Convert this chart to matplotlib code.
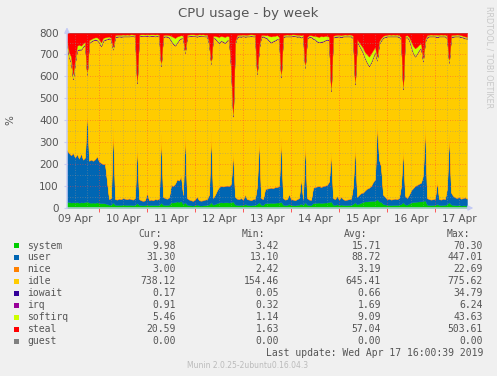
import matplotlib
matplotlib.use('Agg')
import matplotlib.pyplot as plt
from matplotlib.patches import Rectangle
import numpy as np

# hourly samples, 09 Apr 08:00 -> 17 Apr 16:00 (201 points)
system = [
    28, 27, 25, 26, 25, 27, 24, 26, 25, 27,
    30, 25, 24, 25, 24, 26, 23, 22, 22, 21,
    18, 15, 16, 25, 15, 14, 15, 14, 16, 15,
    14, 15, 14, 13, 15, 22, 14, 13, 12, 13,
    16, 13, 14, 13, 14, 13, 14, 24, 15, 14,
    14, 15, 26, 25, 27, 30, 28, 32, 18, 26,
    15, 13, 12, 11, 13, 16, 12, 11, 12, 13,
    14, 16, 26, 15, 18, 22, 25, 26, 25, 26,
    26, 25, 27, 30, 16, 14, 13, 15, 13, 18,
    14, 13, 12, 14, 14, 18, 26, 15, 14, 22,
    22, 23, 24, 23, 24, 25, 25, 28, 15, 13,
    14, 18, 14, 13, 12, 14, 15, 20, 14, 26,
    15, 13, 13, 22, 23, 24, 25, 23, 24, 25,
    25, 27, 30, 15, 14, 17, 13, 16, 14, 13,
    13, 14, 14, 18, 26, 16, 20, 24, 28, 30,
    30, 31, 32, 33, 32, 40, 30, 28, 18, 16,
    14, 14, 13, 14, 14, 14, 15, 18, 26, 16,
    15, 20, 25, 27, 28, 29, 30, 30, 32, 35,
    15, 14, 13, 14, 14, 18, 14, 13, 14, 14,
    18, 26, 16, 14, 13, 12, 14, 11, 12, 12,
    10]
user = [
    234, 223, 215, 224, 205, 218, 201, 222, 195, 203,
    415, 190, 196, 190, 198, 209, 189, 183, 178, 179,
    102, 25, 29, 345, 25, 24, 27, 26, 29, 27,
    26, 28, 26, 25, 30, 268, 26, 22, 20, 22,
    52, 22, 24, 22, 26, 25, 28, 311, 35, 31,
    28, 33, 79, 75, 83, 100, 97, 113, 42, 319,
    30, 25, 23, 21, 27, 34, 23, 22, 23, 25,
    26, 44, 319, 30, 42, 58, 70, 74, 73, 74,
    76, 75, 83, 226, 34, 28, 27, 30, 25, 42,
    26, 25, 23, 26, 28, 82, 294, 30, 26, 63,
    66, 67, 68, 67, 71, 70, 75, 294, 30, 25,
    26, 44, 26, 25, 23, 26, 30, 115, 26, 279,
    30, 25, 23, 70, 72, 74, 75, 72, 76, 77,
    80, 93, 226, 30, 26, 38, 25, 34, 26, 23,
    25, 26, 28, 82, 260, 34, 40, 44, 42, 50,
    58, 61, 68, 85, 98, 345, 190, 160, 42, 34,
    26, 28, 25, 26, 28, 26, 30, 82, 244, 39,
    30, 40, 55, 63, 72, 76, 80, 85, 118, 343,
    30, 26, 25, 26, 28, 102, 26, 25, 28, 26,
    72, 314, 54, 41, 35, 33, 36, 31, 33, 36,
    31]
nice = [
    3, 3, 3, 3, 3, 3, 3, 3, 3, 3, 3, 3, 3, 3, 3, 3, 3, 3, 3, 3,
    3, 3, 3, 3, 3, 3, 3, 3, 3, 3, 3, 3, 3, 3, 3, 3, 3, 3, 3, 3,
    3, 3, 3, 3, 3, 3, 3, 3, 3, 3, 3, 3, 3, 3, 3, 3, 3, 3, 3, 3,
    3, 3, 3, 3, 3, 3, 3, 3, 3, 3, 3, 3, 3, 3, 3, 3, 3, 3, 3, 3,
    3, 3, 3, 3, 3, 3, 3, 3, 3, 3, 3, 3, 3, 3, 3, 3, 3, 3, 3, 3,
    3, 3, 3, 3, 3, 3, 3, 3, 3, 3, 3, 3, 3, 3, 3, 3, 3, 3, 3, 3,
    3, 3, 3, 3, 3, 3, 3, 3, 3, 3, 3, 3, 3, 3, 3, 3, 3, 3, 3, 3,
    3, 3, 3, 3, 3, 3, 3, 3, 3, 3, 3, 3, 3, 3, 3, 3, 3, 3, 3, 3,
    3, 3, 3, 3, 3, 3, 3, 3, 3, 3, 3, 3, 3, 3, 3, 3, 3, 3, 3, 3,
    3, 3, 3, 3, 3, 3, 3, 3, 3, 3, 3, 3, 3, 3, 3, 3, 3, 3, 3, 3,
    3]
idle = [
    482, 434, 419, 334, 429, 471, 494, 471, 512, 512,
    159, 534, 536, 546, 542, 527, 540, 529, 559, 564,
    646, 730, 718, 349, 736, 740, 737, 738, 734, 737,
    739, 736, 740, 742, 733, 276, 739, 746, 748, 745,
    713, 744, 743, 746, 739, 743, 736, 309, 726, 734,
    736, 726, 654, 646, 627, 621, 639, 625, 711, 359,
    733, 742, 746, 748, 740, 728, 746, 747, 745, 741,
    739, 686, 309, 728, 709, 678, 654, 659, 656, 649,
    659, 661, 522, 158, 696, 734, 739, 733, 742, 718,
    739, 741, 746, 739, 737, 508, 404, 731, 739, 689,
    682, 669, 659, 667, 666, 672, 664, 270, 731, 741,
    739, 717, 739, 743, 745, 738, 734, 639, 738, 331,
    723, 739, 740, 677, 669, 658, 652, 659, 656, 659,
    659, 642, 274, 728, 737, 723, 741, 726, 739, 743,
    741, 739, 737, 671, 274, 706, 679, 654, 634, 599,
    571, 552, 561, 566, 579, 284, 524, 573, 713, 726,
    739, 737, 741, 739, 737, 739, 732, 666, 268, 718,
    731, 704, 654, 614, 587, 596, 607, 611, 515, 376,
    731, 739, 741, 739, 737, 656, 739, 741, 737, 739,
    681, 319, 706, 723, 731, 734, 729, 734, 729, 722,
    728]
iowait = [
    1, 1, 1, 1, 1, 1, 1, 1, 1, 1, 1, 1, 1, 1, 1, 1, 1, 1, 1, 1,
    1, 1, 1, 1, 1, 1, 1, 1, 1, 1, 1, 1, 1, 1, 1, 1, 1, 1, 1, 1,
    1, 1, 1, 1, 1, 1, 1, 1, 1, 1, 1, 1, 1, 1, 1, 1, 1, 1, 1, 1,
    1, 1, 1, 1, 1, 1, 1, 1, 1, 1, 1, 1, 1, 1, 1, 1, 1, 1, 1, 1,
    1, 1, 1, 1, 1, 1, 1, 1, 1, 1, 1, 1, 1, 1, 1, 1, 1, 1, 1, 1,
    1, 1, 1, 1, 1, 1, 1, 1, 1, 1, 1, 1, 1, 1, 1, 1, 1, 1, 1, 1,
    1, 1, 1, 1, 1, 1, 1, 1, 1, 1, 1, 1, 1, 1, 1, 1, 1, 1, 1, 1,
    1, 1, 1, 1, 1, 1, 1, 1, 1, 1, 1, 1, 1, 1, 1, 1, 1, 1, 1, 1,
    1, 1, 1, 1, 1, 1, 1, 1, 1, 1, 1, 1, 1, 1, 1, 1, 1, 1, 1, 1,
    1, 1, 1, 1, 1, 1, 1, 1, 1, 1, 1, 1, 1, 1, 1, 1, 1, 1, 1, 1,
    1]
irq = [
    2, 2, 2, 2, 2, 2, 2, 2, 2, 2, 2, 2, 2, 2, 2, 2, 2, 2, 2, 2,
    2, 2, 2, 2, 2, 2, 2, 2, 2, 2, 2, 2, 2, 2, 2, 2, 2, 2, 2, 2,
    2, 2, 2, 2, 2, 2, 2, 2, 2, 2, 2, 2, 2, 2, 2, 2, 2, 2, 2, 2,
    2, 2, 2, 2, 2, 2, 2, 2, 2, 2, 2, 2, 2, 2, 2, 2, 2, 2, 2, 2,
    2, 2, 2, 2, 2, 2, 2, 2, 2, 2, 2, 2, 2, 2, 2, 2, 2, 2, 2, 2,
    2, 2, 2, 2, 2, 2, 2, 2, 2, 2, 2, 2, 2, 2, 2, 2, 2, 2, 2, 2,
    2, 2, 2, 2, 2, 2, 2, 2, 2, 2, 2, 2, 2, 2, 2, 2, 2, 2, 2, 2,
    2, 2, 2, 2, 2, 2, 2, 2, 2, 2, 2, 2, 2, 2, 2, 2, 2, 2, 2, 2,
    2, 2, 2, 2, 2, 2, 2, 2, 2, 2, 2, 2, 2, 2, 2, 2, 2, 2, 2, 2,
    2, 2, 2, 2, 2, 2, 2, 2, 2, 2, 2, 2, 2, 2, 2, 2, 2, 2, 2, 2,
    2]
softirq = [
    10, 20, 25, 20, 15, 18, 20, 15, 12, 10,
    10, 10, 8, 8, 8, 10, 12, 15, 10, 8,
    8, 6, 6, 10, 6, 6, 5, 6, 6, 5,
    6, 5, 6, 5, 6, 8, 5, 5, 6, 5,
    5, 6, 5, 5, 6, 5, 6, 10, 6, 5,
    6, 8, 20, 28, 32, 25, 15, 12, 8, 10,
    6, 5, 5, 6, 5, 6, 5, 5, 6, 5,
    6, 8, 10, 6, 10, 18, 25, 20, 22, 25,
    18, 15, 12, 10, 8, 6, 5, 6, 5, 6,
    5, 6, 5, 6, 5, 8, 10, 6, 5, 8,
    12, 20, 25, 22, 18, 15, 10, 12, 6, 5,
    6, 5, 6, 5, 5, 6, 5, 8, 6, 10,
    6, 5, 6, 10, 15, 20, 22, 25, 20, 18,
    15, 12, 10, 6, 5, 6, 5, 6, 5, 6,
    5, 6, 5, 8, 10, 8, 10, 15, 20, 25,
    35, 40, 38, 30, 20, 15, 10, 8, 6, 6,
    5, 6, 5, 6, 5, 6, 5, 8, 10, 6,
    6, 10, 20, 30, 35, 28, 22, 18, 12, 10,
    6, 5, 6, 5, 6, 8, 5, 6, 5, 6,
    8, 10, 6, 6, 5, 6, 5, 6, 5, 6,
    5]
steal = [
    40, 90, 110, 190, 120, 60, 55, 60, 50, 42,
    180, 35, 30, 25, 22, 22, 30, 45, 25, 22,
    20, 18, 25, 65, 12, 10, 10, 10, 9, 10,
    9, 10, 8, 9, 10, 220, 10, 8, 8, 9,
    8, 9, 8, 8, 9, 8, 10, 140, 12, 10,
    10, 12, 15, 20, 25, 18, 15, 12, 15, 80,
    10, 9, 8, 8, 9, 10, 8, 9, 8, 10,
    9, 40, 130, 15, 15, 18, 20, 15, 18, 20,
    15, 18, 150, 370, 40, 12, 10, 10, 9, 10,
    10, 9, 8, 9, 10, 178, 60, 12, 10, 12,
    12, 15, 18, 15, 15, 12, 20, 190, 12, 10,
    9, 10, 9, 8, 9, 10, 10, 12, 10, 148,
    20, 12, 12, 15, 15, 18, 20, 15, 18, 15,
    15, 20, 254, 15, 12, 10, 10, 12, 10, 9,
    10, 9, 10, 15, 224, 30, 45, 57, 70, 90,
    100, 110, 95, 80, 65, 110, 40, 25, 15, 12,
    10, 9, 10, 9, 10, 9, 12, 20, 246, 15,
    12, 20, 40, 60, 72, 65, 55, 50, 117, 30,
    12, 10, 9, 10, 9, 10, 10, 9, 10, 9,
    15, 125, 12, 10, 10, 9, 10, 12, 15, 18,
    20]
guest = [
    0, 0, 0, 0, 0, 0, 0, 0, 0, 0, 0, 0, 0, 0, 0, 0, 0, 0, 0, 0,
    0, 0, 0, 0, 0, 0, 0, 0, 0, 0, 0, 0, 0, 0, 0, 0, 0, 0, 0, 0,
    0, 0, 0, 0, 0, 0, 0, 0, 0, 0, 0, 0, 0, 0, 0, 0, 0, 0, 0, 0,
    0, 0, 0, 0, 0, 0, 0, 0, 0, 0, 0, 0, 0, 0, 0, 0, 0, 0, 0, 0,
    0, 0, 0, 0, 0, 0, 0, 0, 0, 0, 0, 0, 0, 0, 0, 0, 0, 0, 0, 0,
    0, 0, 0, 0, 0, 0, 0, 0, 0, 0, 0, 0, 0, 0, 0, 0, 0, 0, 0, 0,
    0, 0, 0, 0, 0, 0, 0, 0, 0, 0, 0, 0, 0, 0, 0, 0, 0, 0, 0, 0,
    0, 0, 0, 0, 0, 0, 0, 0, 0, 0, 0, 0, 0, 0, 0, 0, 0, 0, 0, 0,
    0, 0, 0, 0, 0, 0, 0, 0, 0, 0, 0, 0, 0, 0, 0, 0, 0, 0, 0, 0,
    0, 0, 0, 0, 0, 0, 0, 0, 0, 0, 0, 0, 0, 0, 0, 0, 0, 0, 0, 0,
    0]

names = ['system', 'user', 'nice', 'idle', 'iowait', 'irq', 'softirq', 'steal', 'guest']
colors = ['#00CC00', '#0066B3', '#FF8000', '#FFCC00', '#330099',
          '#990099', '#CCFF00', '#FF0000', '#808080']
cur = ['9.98', '31.30', '3.00', '738.12', '0.17', '0.91', '5.46', '20.59', '0.00']
vmin = ['3.42', '13.10', '2.42', '154.46', '0.05', '0.32', '1.14', '1.63', '0.00']
avg = ['15.71', '88.72', '3.19', '645.41', '0.66', '1.69', '9.09', '57.04', '0.00']
vmax = ['70.30', '447.01', '22.69', '775.62', '34.79', '6.24', '43.63', '503.61', '0.00']
day_labels = ['09 Apr', '10 Apr', '11 Apr', '12 Apr', '13 Apr',
              '14 Apr', '15 Apr', '16 Apr', '17 Apr']

W, H = 497, 376
TXT = '#555555'
MONO = 'DejaVu Sans Mono'

fig = plt.figure(figsize=(W / 100, H / 100), dpi=100, facecolor='#F0F0F0')
ax = fig.add_axes([67 / W, 1 - 208 / H, 400 / W, 175.5 / H])
ax.set_facecolor('#FFFFFF')

hours = np.arange(len(system))
ax.stackplot(hours, system, user, nice, idle, iowait, irq, softirq, steal, guest,
             colors=colors, linewidth=0.3, edgecolor='face')
ax.set_xlim(0, len(system) - 1)
ax.set_ylim(0, 800)

# grid drawn over the data like rrdtool does
for h in range(4, 201, 6):
    if (h - 16) % 24 == 0:
        ax.axvline(h, color='#FF4040', lw=0.6, ls=(0, (1, 2)), alpha=0.7, zorder=5)
    else:
        ax.axvline(h, color='#909090', lw=0.6, ls=(0, (1, 2)), alpha=0.6, zorder=5)
for v in range(50, 800, 50):
    if v % 100 == 0:
        ax.axhline(v, color='#FF4040', lw=0.6, ls=(0, (1, 2)), alpha=0.6, zorder=5)
    else:
        ax.axhline(v, color='#909090', lw=0.6, ls=(0, (1, 2)), alpha=0.6, zorder=5)

for s in ax.spines.values():
    s.set_visible(False)

ax.set_xticks([4 + 24 * k for k in range(len(day_labels))], day_labels)
ax.set_xticks([16 + 24 * k for k in range(8)], minor=True)
ax.tick_params(axis='x', which='major', length=0, pad=4, labelsize=7.5, labelcolor=TXT)
ax.tick_params(axis='x', which='minor', length=3, color='#FF4040', width=0.6)
ax.set_yticks(range(0, 801, 100))
ax.tick_params(axis='y', length=2, color='#C8CCF5', pad=4, labelsize=7.5, labelcolor=TXT)

axis_col = '#C4CBF5'
ax.annotate('', xy=(1.016, 0), xytext=(0, 0), xycoords='axes fraction',
            arrowprops=dict(arrowstyle='-|>', color=axis_col, lw=1, mutation_scale=7,
                            shrinkA=0, shrinkB=0), annotation_clip=False, zorder=6)
ax.annotate('', xy=(0, 1.03), xytext=(0, 0), xycoords='axes fraction',
            arrowprops=dict(arrowstyle='-|>', color=axis_col, lw=1, mutation_scale=7,
                            shrinkA=0, shrinkB=0), annotation_clip=False, zorder=6)

fig.text(248 / W, 1 - 13 / H, 'CPU usage - by week', ha='center', va='center',
         fontsize=9.5, color=TXT)
fig.text(10 / W, 1 - 120 / H, '%', rotation=90, ha='center', va='center',
         fontsize=7.5, color=TXT)
fig.text(489 / W, 1 - 57 / H, 'RRDTOOL / TOBI OETIKER', rotation=270, ha='center',
         va='center', fontsize=5.8, color='#C8C8C8')

# legend table
head_x = [162, 265, 367, 470]
val_x = [176, 279, 381, 483]
for x, t in zip(head_x, ['Cur:', 'Min:', 'Avg:', 'Max:']):
    fig.text(x / W, 1 - 234 / H, t, ha='right', va='center', family=MONO,
             fontsize=7, color=TXT)
for i, name in enumerate(names):
    y = 245.5 + 12 * i
    fig.add_artist(Rectangle((14 / W, 1 - (y + 2.5) / H), 5 / W, 5 / H,
                             transform=fig.transFigure, color=colors[i], lw=0))
    fig.text(27 / W, 1 - y / H, name, ha='left', va='center', family=MONO,
             fontsize=7, color=TXT)
    for x, col in zip(val_x, [cur, vmin, avg, vmax]):
        fig.text(x / W, 1 - y / H, col[i], ha='right', va='center', family=MONO,
                 fontsize=7, color=TXT)

fig.text(483 / W, 1 - 353.5 / H, 'Last update: Wed Apr 17 16:00:39 2019', ha='right',
         va='center', family=MONO, fontsize=7, color=TXT)
fig.text(248 / W, 1 - 366 / H, 'Munin 2.0.25-2ubuntu0.16.04.3', ha='center',
         va='center', fontsize=5.5, color='#BBBBBB')

fig.savefig('out.png', dpi=100, facecolor=fig.get_facecolor())
